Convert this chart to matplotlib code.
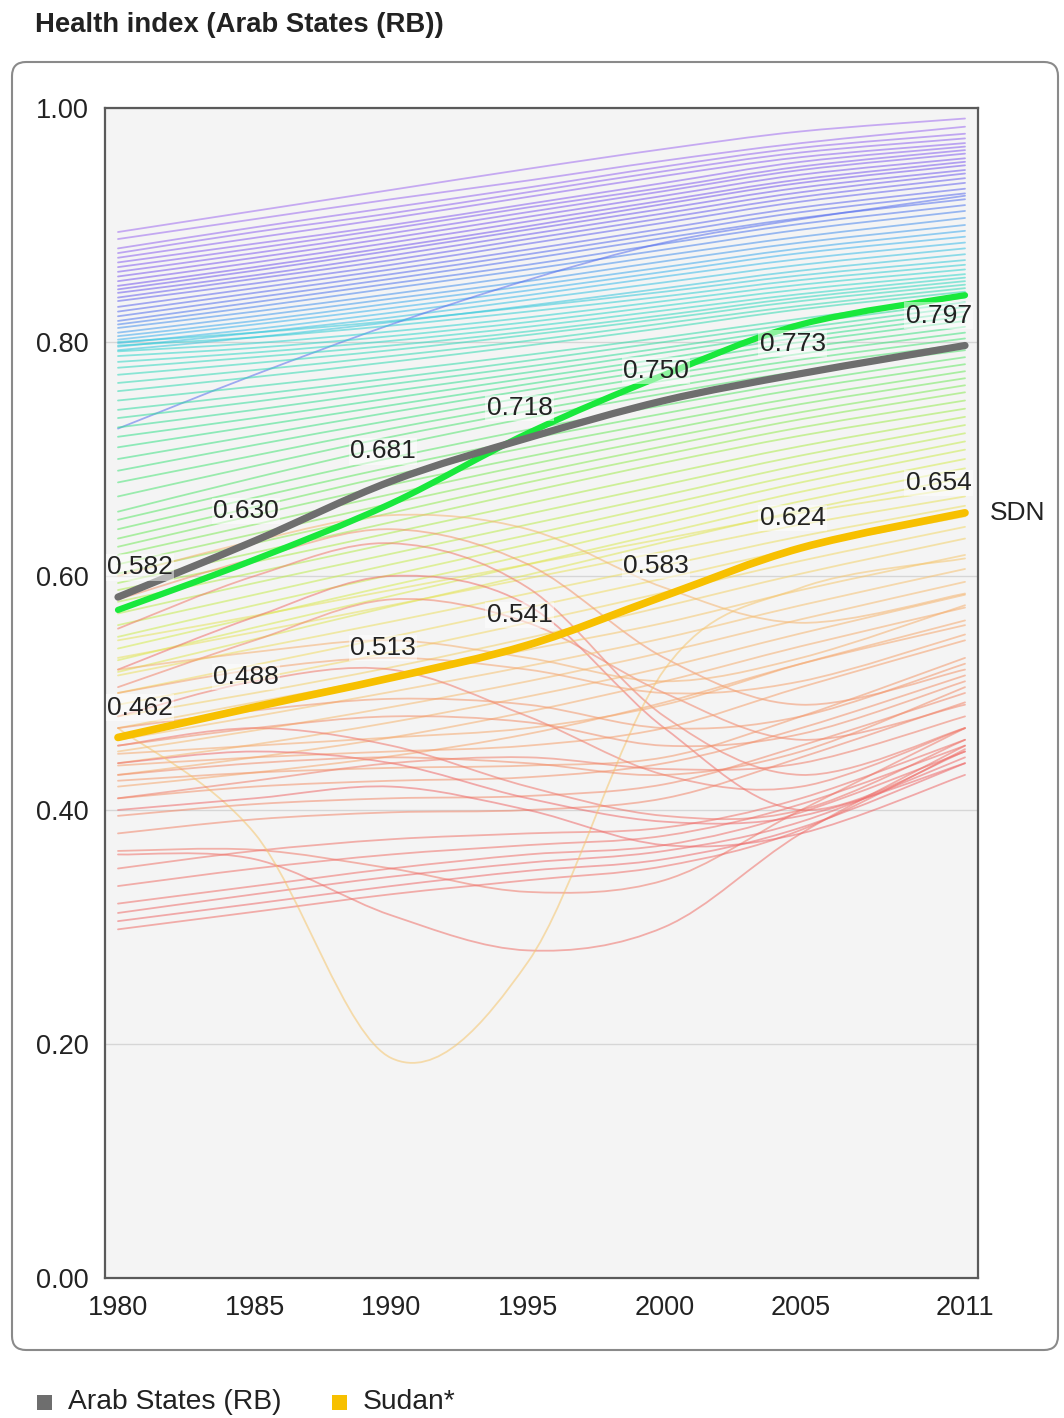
import numpy as np
import matplotlib
import matplotlib.pyplot as plt
from matplotlib.path import Path
from matplotlib.patches import PathPatch, FancyBboxPatch, Rectangle
from matplotlib.colors import LinearSegmentedColormap
from matplotlib.transforms import IdentityTransform

plt.rcParams['font.family'] = ['Liberation Sans', 'DejaVu Sans']

years = [1980, 1985, 1990, 1995, 2000, 2005, 2011]

arab_states = [0.582, 0.630, 0.681, 0.718, 0.750, 0.773, 0.797]
sudan = [0.462, 0.488, 0.513, 0.541, 0.583, 0.624, 0.654]
green_country = [0.571, 0.614, 0.662, 0.722, 0.772, 0.815, 0.840]

# all other countries
other_countries = [
    [0.894, 0.912, 0.930, 0.948, 0.965, 0.980, 0.991],
    [0.888, 0.905, 0.922, 0.938, 0.955, 0.970, 0.984],
    [0.880, 0.898, 0.915, 0.932, 0.950, 0.966, 0.978],
    [0.876, 0.894, 0.910, 0.928, 0.946, 0.962, 0.974],
    [0.872, 0.889, 0.906, 0.924, 0.942, 0.958, 0.970],
    [0.868, 0.884, 0.900, 0.918, 0.936, 0.954, 0.967],
    [0.864, 0.880, 0.897, 0.915, 0.932, 0.950, 0.964],
    [0.860, 0.876, 0.893, 0.911, 0.929, 0.947, 0.961],
    [0.856, 0.872, 0.889, 0.907, 0.925, 0.943, 0.957],
    [0.852, 0.868, 0.885, 0.903, 0.921, 0.939, 0.954],
    [0.848, 0.864, 0.881, 0.899, 0.918, 0.936, 0.951],
    [0.845, 0.861, 0.878, 0.896, 0.914, 0.932, 0.947],
    [0.842, 0.857, 0.874, 0.892, 0.910, 0.928, 0.944],
    [0.838, 0.854, 0.870, 0.888, 0.906, 0.924, 0.940],
    [0.835, 0.850, 0.866, 0.884, 0.902, 0.920, 0.936],
    [0.830, 0.846, 0.862, 0.879, 0.897, 0.915, 0.931],
    [0.826, 0.842, 0.858, 0.875, 0.893, 0.911, 0.927],
    [0.822, 0.838, 0.854, 0.871, 0.889, 0.906, 0.922],
    [0.818, 0.834, 0.850, 0.866, 0.884, 0.901, 0.917],
    [0.815, 0.830, 0.846, 0.862, 0.879, 0.896, 0.912],
    [0.812, 0.826, 0.841, 0.857, 0.874, 0.890, 0.906],
    [0.808, 0.822, 0.837, 0.852, 0.869, 0.885, 0.900],
    [0.805, 0.818, 0.833, 0.848, 0.864, 0.880, 0.895],
    [0.802, 0.815, 0.829, 0.844, 0.860, 0.876, 0.890],
    [0.799, 0.811, 0.825, 0.840, 0.856, 0.871, 0.885],
    [0.796, 0.808, 0.821, 0.836, 0.851, 0.866, 0.880],
    [0.793, 0.804, 0.817, 0.831, 0.846, 0.861, 0.875],
    [0.726, 0.772, 0.815, 0.853, 0.885, 0.905, 0.925],
    [0.800, 0.808, 0.818, 0.830, 0.843, 0.857, 0.870],
    [0.797, 0.804, 0.814, 0.826, 0.839, 0.853, 0.866],
    [0.792, 0.799, 0.809, 0.821, 0.835, 0.849, 0.862],
    [0.788, 0.795, 0.805, 0.817, 0.831, 0.845, 0.858],
    [0.783, 0.791, 0.801, 0.813, 0.827, 0.841, 0.855],
    [0.778, 0.787, 0.797, 0.809, 0.823, 0.838, 0.852],
    [0.772, 0.782, 0.793, 0.806, 0.820, 0.835, 0.849],
    [0.765, 0.776, 0.788, 0.801, 0.816, 0.831, 0.846],
    [0.758, 0.770, 0.783, 0.797, 0.812, 0.828, 0.843],
    [0.750, 0.762, 0.775, 0.789, 0.804, 0.820, 0.838],
    [0.742, 0.755, 0.769, 0.784, 0.800, 0.816, 0.834],
    [0.735, 0.749, 0.764, 0.779, 0.795, 0.812, 0.830],
    [0.727, 0.742, 0.758, 0.774, 0.791, 0.808, 0.826],
    [0.719, 0.735, 0.752, 0.769, 0.786, 0.804, 0.822],
    [0.710, 0.728, 0.746, 0.764, 0.782, 0.800, 0.818],
    [0.700, 0.720, 0.740, 0.759, 0.777, 0.795, 0.813],
    [0.690, 0.712, 0.733, 0.753, 0.772, 0.790, 0.808],
    [0.680, 0.703, 0.726, 0.747, 0.767, 0.785, 0.803],
    [0.668, 0.694, 0.719, 0.741, 0.761, 0.780, 0.798],
    [0.655, 0.684, 0.711, 0.735, 0.756, 0.775, 0.793],
    [0.648, 0.675, 0.701, 0.725, 0.746, 0.766, 0.787],
    [0.640, 0.667, 0.693, 0.717, 0.739, 0.760, 0.781],
    [0.632, 0.659, 0.686, 0.710, 0.732, 0.753, 0.775],
    [0.625, 0.652, 0.678, 0.702, 0.725, 0.747, 0.769],
    [0.618, 0.644, 0.670, 0.695, 0.718, 0.740, 0.763],
    [0.610, 0.636, 0.662, 0.687, 0.711, 0.734, 0.757],
    [0.602, 0.628, 0.654, 0.680, 0.704, 0.727, 0.750],
    [0.594, 0.620, 0.646, 0.672, 0.697, 0.720, 0.743],
    [0.588, 0.612, 0.637, 0.662, 0.687, 0.711, 0.736],
    [0.578, 0.603, 0.628, 0.653, 0.678, 0.703, 0.729],
    [0.568, 0.594, 0.619, 0.644, 0.669, 0.695, 0.722],
    [0.558, 0.584, 0.610, 0.635, 0.661, 0.687, 0.715],
    [0.548, 0.575, 0.601, 0.627, 0.653, 0.680, 0.708],
    [0.538, 0.565, 0.592, 0.618, 0.645, 0.672, 0.700],
    [0.528, 0.556, 0.583, 0.610, 0.637, 0.664, 0.692],
    [0.518, 0.546, 0.574, 0.601, 0.629, 0.656, 0.684],
    [0.545, 0.566, 0.588, 0.610, 0.632, 0.654, 0.676],
    [0.530, 0.552, 0.575, 0.598, 0.621, 0.644, 0.668],
    [0.515, 0.538, 0.561, 0.585, 0.609, 0.634, 0.660],
    [0.500, 0.524, 0.548, 0.573, 0.598, 0.624, 0.651],
    [0.490, 0.512, 0.535, 0.560, 0.586, 0.613, 0.642],
    [0.480, 0.500, 0.522, 0.547, 0.574, 0.602, 0.632],
    [0.580, 0.615, 0.640, 0.610, 0.530, 0.490, 0.520],
    [0.555, 0.600, 0.628, 0.590, 0.480, 0.430, 0.470],
    [0.520, 0.565, 0.600, 0.575, 0.470, 0.400, 0.450],
    [0.600, 0.630, 0.652, 0.640, 0.590, 0.560, 0.585],
    [0.505, 0.545, 0.580, 0.560, 0.500, 0.460, 0.490],
    [0.470, 0.492, 0.514, 0.537, 0.560, 0.588, 0.618],
    [0.460, 0.480, 0.501, 0.523, 0.547, 0.575, 0.606],
    [0.450, 0.468, 0.488, 0.510, 0.535, 0.563, 0.595],
    [0.440, 0.456, 0.475, 0.497, 0.522, 0.551, 0.584],
    [0.430, 0.445, 0.462, 0.484, 0.510, 0.540, 0.573],
    [0.448, 0.455, 0.462, 0.470, 0.490, 0.525, 0.562],
    [0.420, 0.432, 0.446, 0.465, 0.492, 0.525, 0.558],
    [0.438, 0.445, 0.450, 0.455, 0.470, 0.505, 0.545],
    [0.425, 0.432, 0.436, 0.438, 0.445, 0.480, 0.530],
    [0.410, 0.420, 0.425, 0.428, 0.440, 0.470, 0.515],
    [0.395, 0.405, 0.410, 0.412, 0.422, 0.455, 0.500],
    [0.380, 0.392, 0.398, 0.400, 0.410, 0.445, 0.492],
    [0.365, 0.366, 0.350, 0.330, 0.340, 0.400, 0.470],
    [0.362, 0.358, 0.310, 0.280, 0.300, 0.380, 0.455],
    [0.350, 0.365, 0.375, 0.380, 0.385, 0.410, 0.460],
    [0.335, 0.350, 0.362, 0.370, 0.378, 0.405, 0.455],
    [0.320, 0.335, 0.350, 0.362, 0.370, 0.398, 0.450],
    [0.312, 0.328, 0.343, 0.355, 0.365, 0.390, 0.445],
    [0.305, 0.320, 0.335, 0.348, 0.358, 0.385, 0.440],
    [0.298, 0.313, 0.328, 0.340, 0.352, 0.383, 0.452],
    [0.440, 0.450, 0.440, 0.410, 0.390, 0.395, 0.440],
    [0.455, 0.470, 0.455, 0.420, 0.395, 0.400, 0.460],
    [0.480, 0.510, 0.520, 0.480, 0.430, 0.420, 0.470],
    [0.470, 0.380, 0.188, 0.270, 0.520, 0.590, 0.615],
    [0.400, 0.410, 0.420, 0.400, 0.370, 0.380, 0.430],
    [0.470, 0.485, 0.495, 0.490, 0.470, 0.480, 0.525],
    [0.430, 0.440, 0.445, 0.440, 0.430, 0.450, 0.505],
    [0.500, 0.520, 0.530, 0.520, 0.500, 0.510, 0.550],
    [0.455, 0.470, 0.480, 0.475, 0.455, 0.465, 0.510],
    [0.410, 0.425, 0.440, 0.445, 0.435, 0.440, 0.480],
    [0.520, 0.535, 0.545, 0.530, 0.510, 0.530, 0.575],
]

yticks = [0.0, 0.2, 0.4, 0.6, 0.8, 1.0]
ytick_labels = ['0.00', '0.20', '0.40', '0.60', '0.80', '1.00']

# colour of a country line follows its 2011 value
band_stops = [0.44, 0.52, 0.60, 0.65, 0.70, 0.74, 0.78, 0.82, 0.86, 0.89, 0.92, 0.95, 0.99]
band_colors = ['#ee6a6a', '#f3946a', '#f6bd72', '#f2dc66', '#d6ec50', '#a8ec4c', '#62e860',
               '#36e08a', '#2ed6cc', '#3cb6ee', '#4f72ee', '#7456ee', '#a06cf0']


def smooth_path(xs, ys):
    # catmull-rom through the data points, drawn as bezier segments
    pts = np.column_stack([xs, ys]).astype(float)
    ext = np.vstack([pts[0], pts, pts[-1]])
    verts = [pts[0]]
    codes = [Path.MOVETO]
    for i in range(1, len(ext) - 2):
        p0, p1, p2, p3 = ext[i - 1], ext[i], ext[i + 1], ext[i + 2]
        verts += [p1 + (p2 - p0) / 6, p2 - (p3 - p1) / 6, p2]
        codes += [Path.CURVE4] * 3
    return Path(verts, codes)


def draw_line(ax, values, color, lw, alpha=1.0, z=2):
    patch = PathPatch(smooth_path(years, values), fill=False, edgecolor=color,
                      lw=lw, alpha=alpha, zorder=z, capstyle='round',
                      joinstyle='round')
    ax.add_patch(patch)


fig = plt.figure(figsize=(10.64, 14.18), dpi=100)

# rounded frame around the chart
frame = FancyBboxPatch((12, 1418 - 1350), 1046, 1288,
                       boxstyle='round,pad=0,rounding_size=14',
                       transform=IdentityTransform(), facecolor='none',
                       edgecolor='#8a8a8a', lw=1.5, zorder=-1)
fig.patches.append(frame)

ax = fig.add_axes([105 / 1064, 1 - 1278 / 1418, 873 / 1064, 1170 / 1418])
ax.set_facecolor('#f4f4f4')
ax.set_xlim(1979.524, 2011.476)
ax.set_ylim(0, 1)

lo, hi = band_stops[0], band_stops[-1]
cmap = LinearSegmentedColormap.from_list(
    'hdi', [((s - lo) / (hi - lo), c) for s, c in zip(band_stops, band_colors)])
for vals in other_countries:
    c = cmap(np.clip((vals[-1] - lo) / (hi - lo), 0, 1))
    draw_line(ax, vals, c, lw=1.3, alpha=0.55, z=2)

draw_line(ax, green_country, '#19e83c', lw=4.5, z=4)
draw_line(ax, arab_states, '#6e6e6e', lw=5.2, z=5)
draw_line(ax, sudan, '#f7c000', lw=5.5, z=6)

for series in (arab_states, sudan):
    for yr, v in zip(years, series):
        dx = -6
        if yr == years[0]:
            dx = 16
        elif yr == years[-1]:
            dx = -19
        ax.annotate(f'{v:.3f}', (yr, v), xytext=(dx, 21.5),
                    textcoords='offset points', ha='center', va='center',
                    fontsize=19, color='#222222', zorder=8,
                    bbox=dict(boxstyle='square,pad=0.05', fc='white',
                              ec='none', alpha=0.5))

ax.annotate('SDN', (years[-1], sudan[-1]), xytext=(18, 0),
            textcoords='offset points', ha='left', va='center',
            fontsize=19, color='#222222', annotation_clip=False)

ax.set_yticks(yticks)
ax.set_yticklabels(ytick_labels)
ax.set_xticks(years)
ax.set_xticklabels([str(y) for y in years])
ax.tick_params(length=0, labelsize=19.5, colors='#222222')
ax.tick_params(axis='y', pad=12)
ax.tick_params(axis='x', pad=12)
ax.grid(axis='y', color='#d6d6d6', lw=1)
ax.set_axisbelow(True)
for s in ax.spines.values():
    s.set_color('#5a5a5a')
    s.set_linewidth(1.6)

fig.text(35 / 1064, 1 - 25 / 1418, 'Health index (Arab States (RB))',
         fontsize=19.8, fontweight='bold', color='#222222', va='center')

# legend under the frame
fig.patches.append(Rectangle((37, 1418 - 1410), 15, 15, transform=IdentityTransform(),
                             fc='#6e6e6e', ec='none'))
fig.text(68 / 1064, 1 - 1402 / 1418, 'Arab States (RB)', fontsize=20.3,
         color='#222222', va='center')
fig.patches.append(Rectangle((332, 1418 - 1410), 15, 15, transform=IdentityTransform(),
                             fc='#f7c000', ec='none'))
fig.text(363 / 1064, 1 - 1402 / 1418, 'Sudan*', fontsize=20.3,
         color='#222222', va='center')

fig.savefig('out.png', dpi=100)
